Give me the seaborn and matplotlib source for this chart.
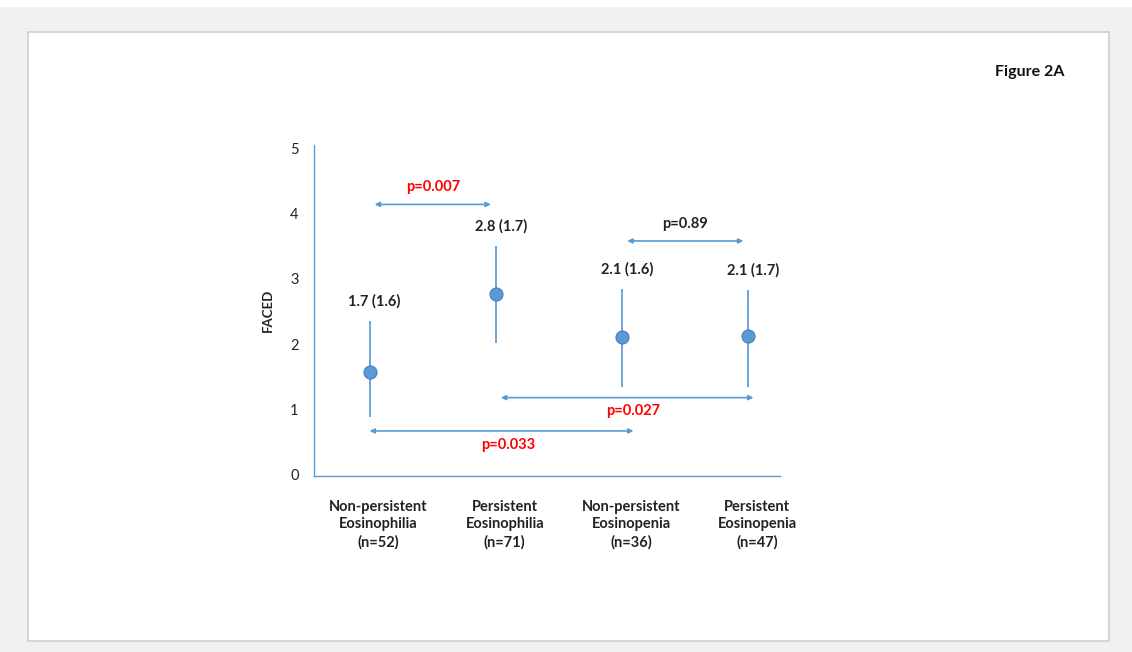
import matplotlib
matplotlib.use("Agg")
import matplotlib.pyplot as plt
from matplotlib.patches import Rectangle
import seaborn as sns
import pandas as pd
import numpy as np

# ---- data ----
categories = ["Non-persistent\nEosinophilia\n(n=52)", "Persistent\nEosinophilia\n(n=71)",
              "Non-persistent\nEosinopenia\n(n=36)", "Persistent\nEosinopenia\n(n=47)"]
means = [1.57, 2.77, 2.11, 2.12]
err_low = [0.88, 2.02, 1.35, 1.34]
err_high = [2.35, 3.51, 2.85, 2.83]
value_labels = ["1.7 (1.6)", "2.8 (1.7)", "2.1 (1.6)", "2.1 (1.7)"]
comparisons = [(0, 1), (2, 3), (1, 3), (0, 2)]
comp_levels = [4.14, 3.58, 1.18, 0.67]
p_labels = ["p=0.007", "p=0.89", "p=0.027", "p=0.033"]
p_colors = ["#FF0000", "#222222", "#FF0000", "#FF0000"]
y_ticks = [0, 1, 2, 3, 4, 5]

sns.set_style("white")
plt.rcParams["font.family"] = ["Lato", "DejaVu Sans"]

W, H = 1132, 652
fig = plt.figure(figsize=(W / 100, H / 100), dpi=100)
fig.patch.set_facecolor("#f1f1f1")
fig.patches.append(Rectangle((0, 1 - 7 / H), 1, 7 / H, transform=fig.transFigure,
                             facecolor="white", edgecolor="none", zorder=-6))
fig.patches.append(Rectangle((28 / W, 1 - 641 / H), (1109 - 28) / W, (641 - 32) / H,
                             transform=fig.transFigure, facecolor="white",
                             edgecolor="#cfcfcf", linewidth=1.2, zorder=-5))

ax_l, ax_r, ax_t, ax_b = 314, 780, 145, 476
ax = fig.add_axes([ax_l / W, 1 - ax_b / H, (ax_r - ax_l) / W, (ax_b - ax_t) / H])
ax.set_zorder(2)
ax.set_facecolor("none")

df = pd.DataFrame({"x": range(len(categories)), "mean": means})
blue = "#5B9BD5"
ax.vlines(df["x"], err_low, err_high, color="#6AA5DA", linewidth=1.4, zorder=2)
sns.scatterplot(data=df, x="x", y="mean", ax=ax, s=88, color=blue,
                edgecolor="#4A7FB5", linewidth=0.8, zorder=3, legend=False)

for i, lab in enumerate(value_labels):
    ax.text(i + 0.04, err_high[i] + 0.3, lab, ha="center", va="center",
            fontsize=10.5, fontweight="bold", color="#222222")

for (a, b), lvl, lab, col in zip(comparisons, comp_levels, p_labels, p_colors):
    xa, xb = a + 0.04, b - 0.04
    if (a, b) == (0, 2):
        xa, xb = a, b + 0.09
    if (a, b) == (1, 3):
        xa, xb = a + 0.04, b + 0.04
    ax.annotate("", xy=(xb, lvl), xytext=(xa, lvl),
                arrowprops=dict(arrowstyle="<|-|>", color=blue, lw=1.2,
                                mutation_scale=7, shrinkA=0, shrinkB=0))
    mid = (xa + xb) / 2
    if lvl > 2:
        ax.text(mid, lvl + 0.26, lab, ha="center", va="center", fontsize=10.5,
                fontweight="bold", color=col)
    else:
        ax.text(mid + 0.05, lvl - 0.21, lab, ha="center", va="center", fontsize=10.5,
                fontweight="bold", color=col)

ax.set_xlim(-0.44, 3.25)
ax.set_ylim(-0.02, 5.05)
ax.set_yticks(y_ticks)
ax.set_yticklabels([str(t) for t in y_ticks], fontsize=10.5, color="#222222")
ax.set_xticks([i + 0.07 for i in range(len(categories))])
ax.set_xticklabels(categories, fontsize=10.5, fontweight="bold", color="#222222",
                   linespacing=1.35)
ax.tick_params(axis="both", length=0)
ax.tick_params(axis="y", pad=11)
ax.tick_params(axis="x", pad=17)
for s in ["top", "right"]:
    ax.spines[s].set_visible(False)
for s in ["left", "bottom"]:
    ax.spines[s].set_color(blue)
    ax.spines[s].set_linewidth(1.0)
ax.set_xlabel("")
ax.set_ylabel("FACED", fontsize=9.5, fontweight="bold", color="#222222", labelpad=12)

fig.text(1030 / W, 1 - 72 / H, "Figure 2A", ha="center", va="center",
         fontsize=11.5, fontweight="bold", color="#111111")

fig.savefig("out.png", dpi=100, facecolor=fig.get_facecolor())
